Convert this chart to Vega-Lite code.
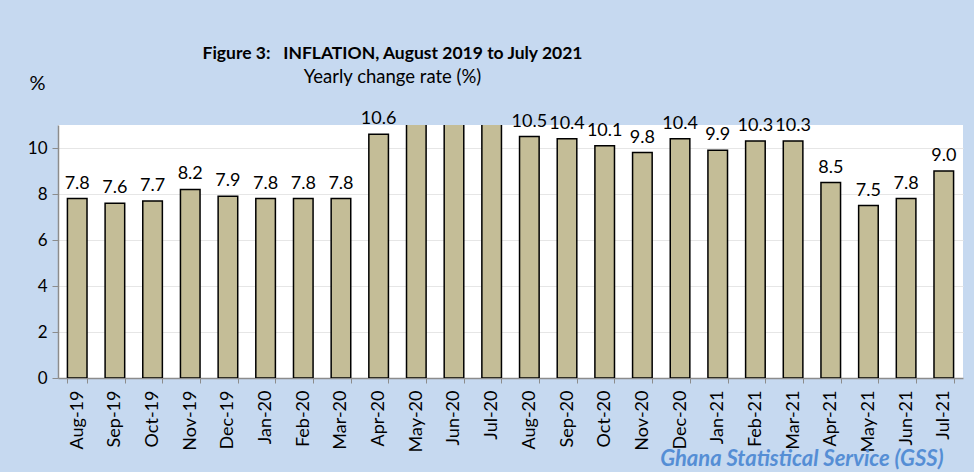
{
  "$schema": "https://vega.github.io/schema/vega-lite/v6.json",
  "width": 905,
  "height": 253,
  "autosize": {"type": "none"},
  "padding": {"left": 58, "top": 125, "right": 11, "bottom": 94},
  "background": "#C6D9F0",
  "config": {
    "font": "Lato",
    "view": {"fill": "white", "stroke": null}
  },
  "title": {
    "text": "Figure 3:\u00a0\u00a0\u00a0INFLATION, August 2019 to July 2021",
    "subtitle": "\u2003\u2003Yearly change rate (%)",
    "anchor": "middle",
    "dx": -118,
    "offset": -13,
    "font": "Lato",
    "fontSize": 17.5,
    "fontWeight": "bold",
    "color": "black",
    "subtitleFont": "Lato",
    "subtitleFontSize": 18.5,
    "subtitleColor": "black",
    "subtitlePadding": 5
  },
  "data": {
    "values": [
      {"month": "Aug-19", "rate": 7.8},
      {"month": "Sep-19", "rate": 7.6},
      {"month": "Oct-19", "rate": 7.7},
      {"month": "Nov-19", "rate": 8.2},
      {"month": "Dec-19", "rate": 7.9},
      {"month": "Jan-20", "rate": 7.8},
      {"month": "Feb-20", "rate": 7.8},
      {"month": "Mar-20", "rate": 7.8},
      {"month": "Apr-20", "rate": 10.6},
      {"month": "May-20", "rate": 11.3},
      {"month": "Jun-20", "rate": 11.2},
      {"month": "Jul-20", "rate": 11.4},
      {"month": "Aug-20", "rate": 10.5},
      {"month": "Sep-20", "rate": 10.4},
      {"month": "Oct-20", "rate": 10.1},
      {"month": "Nov-20", "rate": 9.8},
      {"month": "Dec-20", "rate": 10.4},
      {"month": "Jan-21", "rate": 9.9},
      {"month": "Feb-21", "rate": 10.3},
      {"month": "Mar-21", "rate": 10.3},
      {"month": "Apr-21", "rate": 8.5},
      {"month": "May-21", "rate": 7.5},
      {"month": "Jun-21", "rate": 7.8},
      {"month": "Jul-21", "rate": 9.0}
    ]
  },
  "encoding": {
    "x": {
      "field": "month",
      "type": "nominal",
      "sort": null,
      "scale": {"paddingInner": 0.48, "paddingOuter": 0.25},
      "axis": {
        "title": "Ghana Statistical Service (GSS)",
        "titleFont": "Lato",
        "titleFontSize": 22,
        "titleFontStyle": "italic",
        "titleFontWeight": "bold",
        "titleColor": "#558ED5",
        "titleAnchor": null,
        "titleX": 885,
        "titleY": 80,
        "titleAlign": "right",
        "titleBaseline": "middle",
        "labelAngle": 270,
        "labelFontSize": 18,
        "labelColor": "black",
        "labelPadding": 7,
        "tickBand": "extent",
        "tickSize": 5,
        "tickColor": "#8C8C8C",
        "domainColor": "#8C8C8C",
        "domainWidth": 1.5,
        "grid": false
      }
    },
    "y": {
      "field": "rate",
      "type": "quantitative",
      "scale": {"domain": [0, 11], "nice": false},
      "axis": {
        "values": [0, 2, 4, 6, 8, 10],
        "title": "%",
        "titleAngle": 0,
        "titleX": -21,
        "titleY": -42,
        "titleAlign": "center",
        "titleBaseline": "middle",
        "titleFontSize": 20,
        "titleFontWeight": "normal",
        "titleColor": "black",
        "labelFontSize": 17,
        "labelColor": "black",
        "labelPadding": 5,
        "tickSize": 6,
        "tickColor": "#8C8C8C",
        "domainColor": "#8C8C8C",
        "domainWidth": 1.5,
        "gridColor": "#E6E6E6",
        "gridWidth": 1
      }
    }
  },
  "layer": [
    {
      "mark": {"type": "bar", "fill": "#C4BD97", "stroke": "black", "strokeWidth": 1.5, "clip": true}
    },
    {
      "transform": [{"filter": "datum.rate <= 11"}],
      "mark": {"type": "text", "baseline": "alphabetic", "dy": -10, "fontSize": 18, "color": "black", "font": "Lato"},
      "encoding": {
        "text": {"field": "rate", "type": "quantitative", "format": ".1f"}
      }
    }
  ]
}
